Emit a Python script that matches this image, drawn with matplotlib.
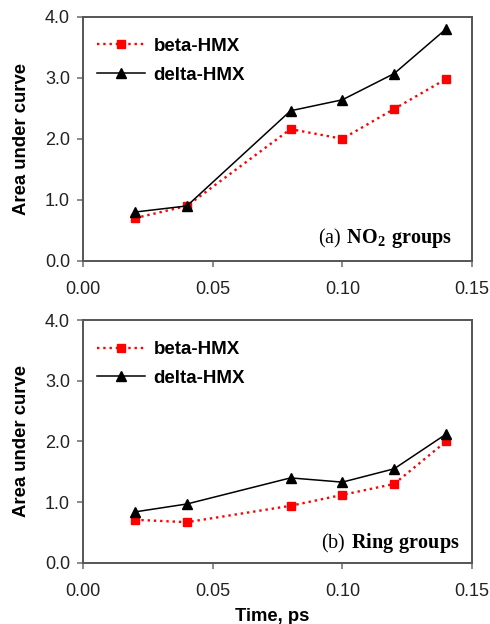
import matplotlib
matplotlib.use("Agg")
import matplotlib.pyplot as plt

# data
time_ps = [0.02, 0.04, 0.08, 0.10, 0.12, 0.14]

no2_beta = [0.70, 0.90, 2.16, 2.00, 2.49, 2.98]
no2_delta = [0.80, 0.90, 2.46, 2.64, 3.07, 3.80]

ring_beta = [0.71, 0.67, 0.94, 1.12, 1.30, 2.00]
ring_delta = [0.84, 0.97, 1.40, 1.33, 1.55, 2.12]

xticks = [0.00, 0.05, 0.10, 0.15]
yticks = [0.0, 1.0, 2.0, 3.0, 4.0]

plt.rcParams['font.family'] = ['Liberation Sans', 'DejaVu Sans']
plt.rcParams['mathtext.fontset'] = 'custom'
plt.rcParams['mathtext.rm'] = 'Liberation Serif'
plt.rcParams['mathtext.bf'] = 'Liberation Serif:bold'

fig = plt.figure(figsize=(4.9, 6.24), dpi=100)
ax_top = fig.add_axes([0.170, 0.582, 0.793, 0.391])
ax_bot = fig.add_axes([0.170, 0.098, 0.793, 0.389])


def style_panel(ax, beta, delta, tag, tag_x, tag_y):
    ax.plot(time_ps, beta, color='red', linestyle=':', linewidth=1.7,
            marker='s', markersize=6, label='beta-HMX')
    ax.plot(time_ps, delta, color='black', linestyle='-', linewidth=1.1,
            marker='^', markersize=7, label='delta-HMX')
    ax.set_xlim(0, 0.15)
    ax.set_ylim(0, 4.0)
    ax.set_xticks(xticks)
    ax.set_xticklabels([f"{v:.2f}" for v in xticks])
    ax.set_yticks(yticks)
    ax.set_yticklabels([f"{v:.1f}" for v in yticks])
    ax.tick_params(direction='out', length=4.5, width=1.2, color='#777777',
                   labelsize=13, labelcolor='#222222')
    ax.tick_params(axis='x', pad=10)
    ax.tick_params(axis='y', pad=5)
    for sp in ax.spines.values():
        sp.set_color('#555555')
        sp.set_linewidth(1.4)
    ax.set_ylabel('Area under curve', fontsize=13.3, fontweight='bold', labelpad=11)
    leg = ax.legend(loc='upper left', bbox_to_anchor=(0.017, 0.945),
                    frameon=False, fontsize=13.5, borderaxespad=0,
                    handlelength=2.56, handletextpad=0.43, labelspacing=0.62)
    for t in leg.get_texts():
        t.set_fontweight('bold')
    ax.text(tag_x, tag_y, tag, transform=ax.transAxes, ha='right',
            va='baseline', fontsize=14.5)


style_panel(ax_top, no2_beta, no2_delta,
            r"$\mathrm{(a)}\ \mathbf{NO_2\ groups}$", 0.95, 0.075)
style_panel(ax_bot, ring_beta, ring_delta,
            r"$\mathrm{(b)}\ \mathbf{Ring\ groups}$", 0.97, 0.06)
ax_bot.set_xlabel('Time, ps', fontsize=13.3, fontweight='bold', labelpad=7)
ax_bot.xaxis.set_label_coords(0.485, -0.185)

fig.savefig('out.png', dpi=100)
